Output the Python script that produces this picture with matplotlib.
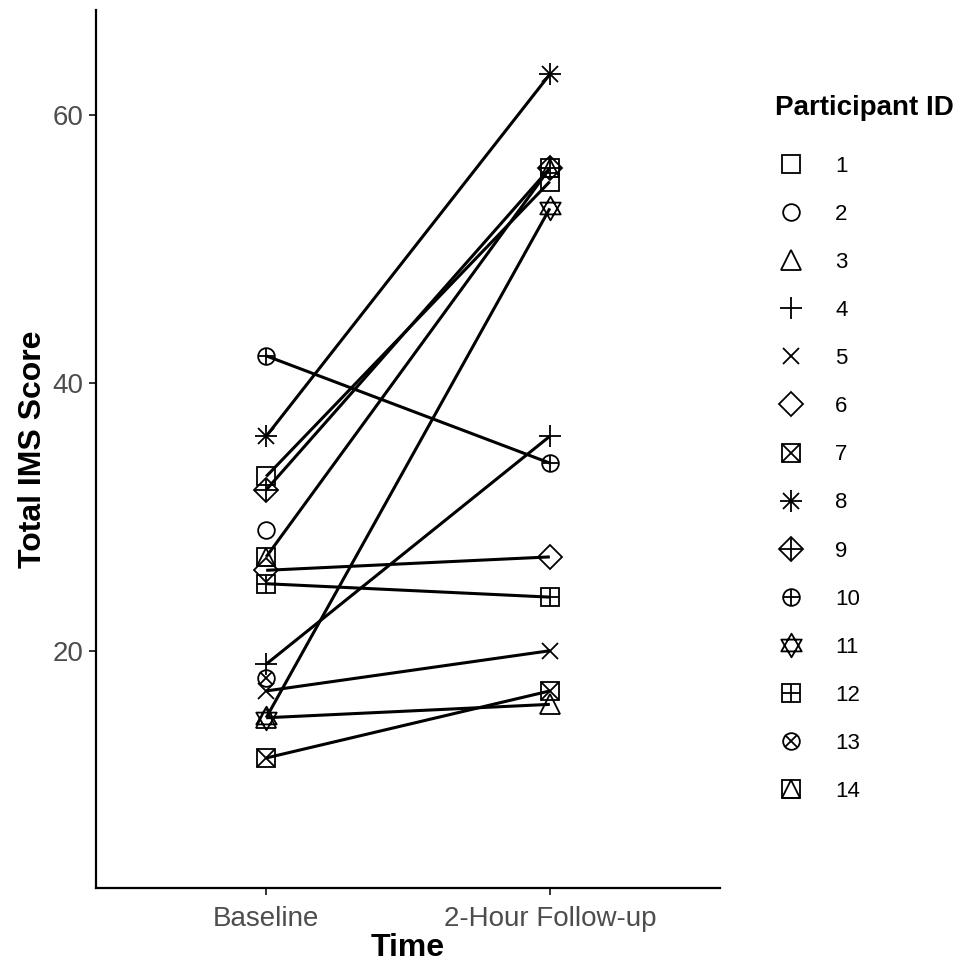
import numpy as np
import matplotlib
matplotlib.use("Agg")
import matplotlib.pyplot as plt
from matplotlib.lines import Line2D
from matplotlib.path import Path

plt.rcParams['font.family'] = ['Liberation Sans', 'DejaVu Sans']

# data
times = ['Baseline', '2-Hour Follow-up']
participants = ['1', '2', '3', '4', '5', '6', '7', '8', '9', '10', '11', '12', '13', '14']
baseline = [33, 29, 15, 19, 17, 26, 12, 36, 32, 42, 15, 25, 18, 27]
followup = [55, np.nan, 16, 36, 20, 27, 17, 63, 56, 34, 53, 24, np.nan, 56]

# hexagram (R shape 11) as one path
s = np.sqrt(3) / 2
hexagram = Path(
    [(0, 1), (-s, -0.5), (s, -0.5), (0, 1), (0, -1), (-s, 0.5), (s, 0.5), (0, -1)],
    [Path.MOVETO, Path.LINETO, Path.LINETO, Path.CLOSEPOLY,
     Path.MOVETO, Path.LINETO, Path.LINETO, Path.CLOSEPOLY])

# ggplot shapes 0-5, 7-14 built from matplotlib markers
shapes = [
    [('s', 12.5)],
    [('o', 12)],
    [('^', 14)],
    [('+', 16)],
    [('x', 11.5)],
    [('D', 12)],
    [('s', 12.5), ('x', 12.5)],
    [('+', 16), ('x', 11.5)],
    [('D', 12), ('+', 17)],
    [('o', 12), ('+', 12)],
    [(hexagram, 17)],
    [('s', 12.5), ('+', 12.5)],
    [('o', 12), ('x', 8.5)],
    [('s', 12.5), ('^', 12.5)],
]

fig = plt.figure(figsize=(9.67, 9.65), dpi=100)
ax = fig.add_axes([96 / 967, 1 - 888 / 965, (720 - 96) / 967, (888 - 10) / 965])

xpos = np.arange(len(times))
mew = 1.3
handles = []
for i, pid in enumerate(participants):
    vals = [baseline[i], followup[i]]
    ax.plot(xpos, vals, color='black', lw=2.2, solid_capstyle='butt', zorder=2)
    parts = []
    for mk, ms in shapes[i]:
        ax.plot(xpos, vals, linestyle='none', marker=mk, ms=ms, mfc='none',
                mec='black', mew=mew, zorder=3)
        parts.append(Line2D([], [], linestyle='none', marker=mk, ms=ms, mfc='none',
                            mec='black', mew=mew))
    handles.append(tuple(parts))

ax.set_xlim(-0.6, 1.6)
ax.set_ylim(2.3, 67.8)
ax.set_xticks(xpos)
ax.set_xticklabels(times)
ax.set_yticks([20, 40, 60])

for side in ['top', 'right']:
    ax.spines[side].set_visible(False)
for side in ['left', 'bottom']:
    ax.spines[side].set_linewidth(1.6)
    ax.spines[side].set_color('black')

ax.tick_params(axis='both', length=5, width=1.4, color='#333333',
               labelsize=20, labelcolor='#4D4D4D', pad=4)
ax.tick_params(axis='x', pad=8)

ax.set_xlabel('Time', fontsize=23, fontweight='bold', labelpad=1)
ax.set_ylabel('Total IMS Score', fontsize=23, fontweight='bold', labelpad=3)

leg = fig.legend(handles, participants, loc='upper left',
                 bbox_to_anchor=(775 / 967, 1 - 95 / 965),
                 frameon=False, fontsize=16, title='Participant ID',
                 title_fontproperties={'weight': 'bold', 'size': 20},
                 alignment='left', borderpad=0, borderaxespad=0,
                 handlelength=1.4, handletextpad=1.3, labelspacing=1.22)
leg._legend_box.sep = 25

fig.savefig('out.png', dpi=100)
